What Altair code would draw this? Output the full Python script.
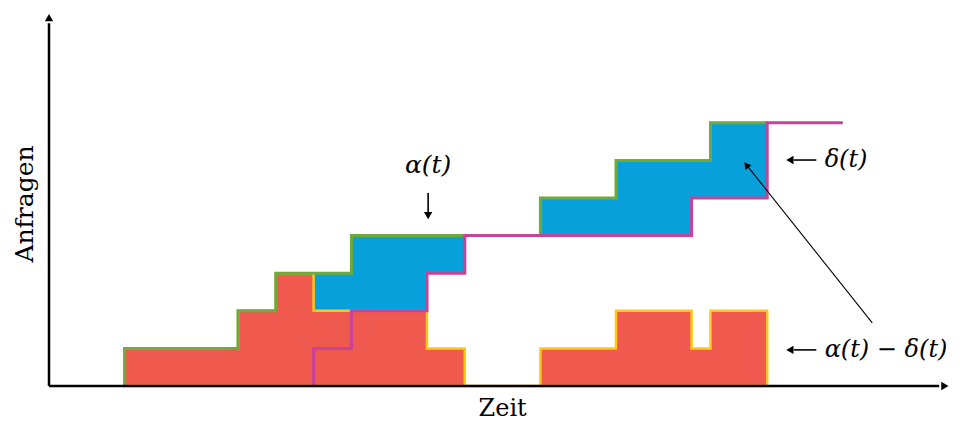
import altair as alt
import pandas as pd

# cumulative arrivals alpha(t) and departures delta(t) (step functions, value holds from x onward)
alpha_x = [2, 2, 5, 6, 8, 13, 15, 17.5, 19]
alpha_y = [0, 1, 2, 3, 4, 5, 6, 7, 7]
delta_x = [7, 7, 8, 10, 11, 17, 19, 21]
delta_y = [0, 1, 2, 3, 4, 5, 7, 7]

labels = ["α(t)", "δ(t)", "α(t) − δ(t)"]
axis_titles = ["Zeit", "Anfragen"]

BLUE = "#08A0DA"
RED = "#F05A4E"
GREEN = "#6DAB3C"
MAGENTA = "#C8429A"
YELLOW = "#FFC814"
FONT = "DejaVu Serif"
UX = 37.8


def step_val(xs, ys, t):
    v = 0
    for x, y in zip(xs, ys):
        if x <= t:
            v = y
    return v


breaks = sorted(set([x for x in alpha_x + delta_x if 2 <= x <= 19]))
area_df = pd.DataFrame({
    "t": breaks,
    "a": [step_val(alpha_x, alpha_y, t) for t in breaks],
    "d": [step_val(delta_x, delta_y, t) for t in breaks],
})
area_df["diff"] = area_df["a"] - area_df["d"]
area_df["zero"] = 0

alpha_df = pd.DataFrame({"t": alpha_x, "v": alpha_y})
delta_df = pd.DataFrame({"t": delta_x, "v": delta_y})

X = alt.Scale(domain=[0, 24], range=[41, 41 + 24 * UX])
Y = alt.Scale(domain=[0, 10], range=[378, 2])


def xe(f):
    return alt.X(f, type="quantitative", scale=X, axis=None)


def ye(f):
    return alt.Y(f, type="quantitative", scale=Y, axis=None)


blue = alt.Chart(area_df).mark_area(interpolate="step-after", color=BLUE).encode(
    x=xe("t"), y=ye("a"), y2="d"
)
red = alt.Chart(area_df).mark_area(
    interpolate="step-after", color=RED, stroke=YELLOW, strokeWidth=2.5
).encode(x=xe("t"), y=ye("diff"), y2="zero")
green = alt.Chart(alpha_df).mark_line(
    interpolate="step-after", color=GREEN, strokeWidth=3
).encode(x=xe("t"), y=ye("v"))
magenta = alt.Chart(delta_df).mark_line(
    interpolate="step-after", color=MAGENTA, strokeWidth=3
).encode(x=xe("t"), y=ye("v"))

# axes with arrow heads
axes_df = pd.DataFrame({"x": [0, 0], "y": [0, 0], "x2": [23.55, 0], "y2": [0, 9.65]})
axes = alt.Chart(axes_df).mark_rule(color="black", strokeWidth=2.5).encode(
    x=xe("x"), y=ye("y"), x2="x2", y2="y2"
)
heads_df = pd.DataFrame({
    "x": [23.7, 0, 19.6, 19.6, 10.03],
    "y": [0, 9.8, 6.01, 0.96, 4.53],
    "shape": ["triangle-right", "triangle-up", "triangle-left", "triangle-left", "triangle-down"],
})
heads = alt.Chart(heads_df).mark_point(filled=True, color="black", opacity=1, size=70).encode(
    x=xe("x"), y=ye("y"), shape=alt.Shape("shape:N", scale=None)
)

# annotation arrow shafts
shafts_df = pd.DataFrame({
    "x": [19.7, 19.7, 10.03, 21.78],
    "y": [6.01, 0.96, 5.13, 1.68],
    "x2": [20.3, 20.3, 10.03, 18.5],
    "y2": [6.01, 0.96, 4.6, 5.82],
    "w": [1.6, 1.6, 1.6, 1.1],
})
shafts = alt.Chart(shafts_df).mark_rule(color="black").encode(
    x=xe("x"), y=ye("y"), x2="x2", y2="y2", strokeWidth=alt.StrokeWidth("w:Q", scale=None)
)
diag_head = alt.Chart(pd.DataFrame({"x": [18.45], "y": [5.88]})).mark_point(
    filled=True, color="black", opacity=1, size=60, shape="triangle-up", angle=321.6
).encode(x=xe("x"), y=ye("y"))

text_df = pd.DataFrame({
    "x": [10.03, 20.52, 20.52],
    "y": [5.88, 6.01, 0.96],
    "label": labels,
})
txt_c = alt.Chart(text_df.iloc[[0]]).mark_text(
    font=FONT, fontSize=25, fontStyle="italic", align="center", baseline="middle"
).encode(x=xe("x"), y=ye("y"), text="label")
txt_l = alt.Chart(text_df.iloc[1:]).mark_text(
    font=FONT, fontSize=24, fontStyle="italic", align="left", baseline="middle"
).encode(x=xe("x"), y=ye("y"), text="label")

zeit = alt.Chart(pd.DataFrame({"x": [12.0], "y": [-0.6], "label": [axis_titles[0]]})).mark_text(
    font=FONT, fontSize=24, align="center", baseline="middle"
).encode(x=xe("x"), y=ye("y"), text="label")
anfr = alt.Chart(pd.DataFrame({"x": [-0.64], "y": [4.84], "label": [axis_titles[1]]})).mark_text(
    font=FONT, fontSize=25, align="center", baseline="middle", angle=270
).encode(x=xe("x"), y=ye("y"), text="label")

chart = alt.layer(
    blue, red, green, magenta, axes, heads, shafts, diag_head, txt_c, txt_l, zeit, anfr
).properties(
    width=944, height=416, autosize=alt.AutoSizeParams(type="none"), padding=0
).configure(background="white", view=alt.ViewConfig(stroke=None))

chart.save("out.html", embed_options={"renderer": "svg", "actions": False})
